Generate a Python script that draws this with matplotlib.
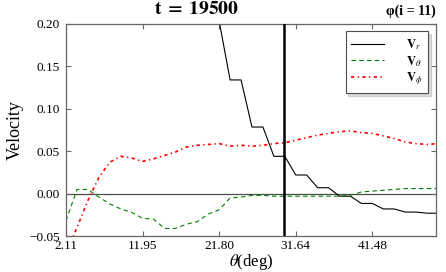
#!/usr/bin/env python

import matplotlib
matplotlib.use('Agg')
import matplotlib.pyplot as plt

plt.rcParams['font.family'] = ['Liberation Serif', 'DejaVu Serif']
plt.rcParams['mathtext.fontset'] = 'stix'

# theta grid (deg)
theta = [2.11, 3.52, 4.92, 6.33, 7.73, 9.14, 10.55, 11.95, 13.36, 14.77,
         16.17, 17.58, 18.98, 20.39, 21.80, 23.20, 24.61, 26.01, 27.42, 28.83,
         30.23, 31.64, 33.04, 34.45, 35.86, 37.26, 38.67, 40.07, 41.48, 42.89,
         44.29, 45.70, 47.10, 48.51, 49.92]

# velocity components
v_r = [0.65, 0.55, 0.55, 0.46, 0.46, 0.39, 0.39, 0.33, 0.33, 0.28,
       0.28, 0.24, 0.24, 0.203, 0.203, 0.134, 0.134, 0.0785, 0.0785, 0.044,
       0.044, 0.022, 0.022, 0.007, 0.007, -0.003, -0.003, -0.0115, -0.0115, -0.018,
       -0.018, -0.0217, -0.0217, -0.023, -0.023]
v_theta = [-0.032, 0.005, 0.005, -0.004, -0.012, -0.018, -0.022, -0.029, -0.030, -0.041,
           -0.041, -0.036, -0.033, -0.024, -0.019, -0.005, -0.004, -0.002, -0.002, -0.003,
           -0.003, -0.003, -0.003, -0.003, -0.003, -0.003, -0.002, 0.002, 0.003, 0.004,
           0.005, 0.006, 0.006, 0.006, 0.006]
v_phi = [-0.070, -0.040, -0.008, 0.019, 0.037, 0.044, 0.042, 0.038, 0.041, 0.045,
         0.049, 0.055, 0.057, 0.058, 0.059, 0.056, 0.057, 0.056, 0.057, 0.059,
         0.060, 0.063, 0.066, 0.069, 0.071, 0.073, 0.074, 0.072, 0.071, 0.068,
         0.065, 0.061, 0.059, 0.058, 0.059]

theta_mark = 30.1
xticks = [2.11, 11.95, 21.80, 31.64, 41.48]
yticks = [-0.05, 0.00, 0.05, 0.10, 0.15, 0.20]

fig = plt.figure(figsize=(4.46, 2.72), dpi=100)
ax = fig.add_axes([0.148, 0.132, 0.829, 0.780])

ax.axhline(0.0, color='0.3', lw=0.9, zorder=1)
ax.axvline(theta_mark, color='black', lw=1.8, zorder=4)

ax.plot(theta, v_r, color='black', lw=0.8, label=r'$\mathbf{V}_r$')
ax.plot(theta, v_theta, color='green', lw=0.8, linestyle=(0, (4, 3)),
        label=r'$\mathbf{V}_\theta$')
ax.plot(theta, v_phi, color='red', lw=1.2, linestyle=(0, (2, 2, 0.8, 2)),
        label=r'$\mathbf{V}_\phi$')

ax.set_xlim(2.11, 49.63)
ax.set_ylim(-0.05, 0.20)
ax.set_xticks(xticks)
ax.set_xticklabels(['%.2f' % t for t in xticks])
ax.set_yticks(yticks)
ax.set_yticklabels(['%.2f' % t if t >= 0 else '\u2212%.2f' % abs(t) for t in yticks])
ax.tick_params(direction='in', length=3.5, top=True, right=True,
               labelsize=9.5, color='0.4')
ax.tick_params(axis='x', pad=2.5)
ax.tick_params(axis='y', pad=4.5)
for s in ax.spines.values():
    s.set_color('0.4')
    s.set_linewidth(0.9)

ax.set_xlabel(r'$\theta$(deg)', fontsize=12, labelpad=0)
ax.set_ylabel('Velocity', fontsize=13, labelpad=4)

ax.text(0.352, 1.03, r'$\mathbf{t\;=\;19500}$', transform=ax.transAxes, ha='center',
        va='bottom', fontsize=14)
ax.text(1.0, 1.03, '\u03c6(i = 11)', transform=ax.transAxes, ha='right',
        va='bottom', fontsize=10, fontweight='bold')

leg = ax.legend(loc='upper right', fontsize=9, fancybox=False,
                shadow={'color': '0.7', 'ox': 2, 'oy': -2},
                handlelength=2.6, handletextpad=1.8, borderaxespad=0.6,
                labelspacing=0.15, borderpad=0.45)
leg.get_frame().set_edgecolor('0.3')
leg.get_frame().set_linewidth(0.8)

plt.savefig('out.png', dpi=100)
